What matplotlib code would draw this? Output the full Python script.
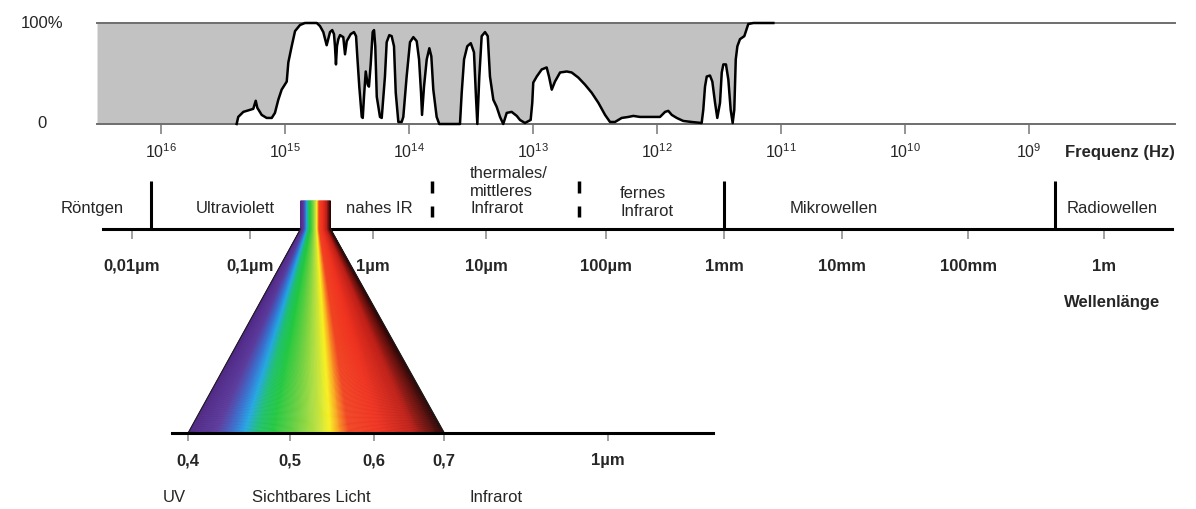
import numpy as np
import matplotlib.pyplot as plt
from matplotlib.colors import LinearSegmentedColormap
from matplotlib.collections import PolyCollection
from matplotlib.ticker import NullLocator

plt.rcParams['font.family'] = ['Liberation Sans', 'DejaVu Sans']
plt.rcParams['mathtext.fontset'] = 'custom'
plt.rcParams['mathtext.rm'] = 'Liberation Sans'
plt.rcParams['mathtext.default'] = 'regular'

C_UM = 2.998e14  # Lichtgeschwindigkeit in um/s

# Durchlaessigkeit der Atmosphaere: x = log10(Frequenz/Hz), y = Prozent
curve_logf = [16.516, 15.390, 15.377, 15.336, 15.282, 15.256, 15.236, 15.223, 15.188, 15.148,
              15.107, 15.081, 15.054, 15.027, 14.986, 14.973, 14.946, 14.919, 14.879, 14.839,
              14.744, 14.718, 14.691, 14.664, 14.637, 14.619, 14.605, 14.597, 14.589, 14.581,
              14.570, 14.556, 14.530, 14.516, 14.502, 14.470, 14.444, 14.427, 14.417, 14.401,
              14.381, 14.373, 14.363, 14.349, 14.333, 14.323, 14.309, 14.293, 14.282, 14.272,
              14.260, 14.234, 14.220, 14.194, 14.180, 14.159, 14.140, 14.121, 14.107, 14.086,
              14.059, 14.046, 14.019, 13.992, 13.965, 13.938, 13.919, 13.903, 13.895, 13.879,
              13.857, 13.836, 13.820, 13.804, 13.777, 13.756, 13.589, 13.575, 13.556, 13.530,
              13.502, 13.476, 13.460, 13.449, 13.433, 13.414, 13.387, 13.365, 13.347, 13.320,
              13.293, 13.266, 13.240, 13.212, 13.172, 13.131, 13.105, 13.065, 13.019, 13.006,
              12.998, 12.970, 12.930, 12.890, 12.871, 12.849, 12.823, 12.782, 12.728, 12.688,
              12.635, 12.581, 12.527, 12.473, 12.419, 12.379, 12.339, 12.285, 12.231, 12.191,
              12.137, 12.056, 11.976, 11.935, 11.909, 11.881, 11.841, 11.788, 11.720, 11.640,
              11.627, 11.613, 11.599, 11.573, 11.554, 11.532, 11.514, 11.492, 11.478, 11.465,
              11.444, 11.425, 11.406, 11.390, 11.377, 11.365, 11.352, 11.331, 11.296, 11.277,
              11.264, 11.223, 11.062]
curve_pct = [0, 0, 7, 12, 14, 15, 23, 16, 9, 6,
             6, 11, 24, 34, 42, 61, 77, 92, 98, 100,
             100, 97, 91, 78, 91, 93, 89, 77, 59, 77,
             84, 88, 86, 69, 82, 89, 91, 87, 67, 37,
             7, 6, 27, 52, 39, 37, 59, 91, 93, 77,
             27, 7, 6, 47, 81, 88, 87, 77, 31, 2,
             2, 7, 47, 81, 86, 82, 64, 31, 9, 37,
             64, 75, 67, 34, 7, 0, 0, 31, 64, 77,
             80, 71, 27, 0, 47, 87, 91, 87, 47, 24,
             17, 7, 0, 11, 12, 8, 4, 1, 4, 21,
             41, 47, 54, 56, 47, 34, 42, 51, 52, 51,
             46, 39, 31, 21, 9, 2, 2, 6, 7, 8,
             7, 7, 7, 12, 13, 9, 6, 3, 2, 1,
             14, 37, 47, 48, 42, 21, 6, 21, 51, 59,
             59, 44, 14, 1, 14, 64, 77, 84, 87, 94,
             99, 100, 100]

freq_exp = [16, 15, 14, 13, 12, 11, 10, 9]

# Bereiche
region_names = ['Röntgen', 'Ultraviolett', 'nahes IR', 'thermales/\nmittleres\nInfrarot',
                'fernes\nInfrarot', 'Mikrowellen', 'Radiowellen']
region_logf = [16.556, 15.403, 14.242, 13.508, 12.298, 10.573, 8.331]
region_align = ['center', 'center', 'center', 'left', 'left', 'center', 'center']
region_y = [0.29, 0.29, 0.29, 0.55, 0.385, 0.29, 0.29]
solid_sep_logf = [16.081, 11.460, 8.790]
dashed_sep_logf = [13.815, 12.629]

wl_tick_logf = [16.234, 15.282, 14.290, 13.379, 12.411, 11.460, 10.508, 9.492, 8.395]
wl_labels = ['0,01µm', '0,1µm', '1µm', '10µm', '100µm', '1mm', '10mm', '100mm', '1m']

# sichtbares Licht
vis_ticks = [0.4, 0.5, 0.6, 0.7, 1.0]
vis_labels = ['0,4', '0,5', '0,6', '0,7', '1µm']
vis_range = (0.4, 0.7)
band_names = ['UV', 'Sichtbares Licht', 'Infrarot']
band_wl = [0.388, 0.524, 0.783]
spec_wl = [0.400, 0.425, 0.440, 0.452, 0.465, 0.481, 0.506, 0.529, 0.546, 0.556, 0.569, 0.608, 0.654, 0.700]
spec_col = ['#4f2784', '#5b3a9c', '#3a6ccc', '#23a6e6', '#1fc070', '#22c840', '#6cd040',
            '#b8e040', '#f8f020', '#f8a020', '#f04422', '#ef3220', '#c02018', '#2a0606']

TXT = '#262626'
W, H = 1196, 509


def box(x0, y0, x1, y1):
    return [x0 / W, 1 - y1 / H, (x1 - x0) / W, (y1 - y0) / H]


fig = plt.figure(figsize=(W / 100, H / 100), dpi=100)

# --- oben: Durchlaessigkeit ---
ax = fig.add_axes(box(97, 23, 1175, 124))
ax.fill_between(curve_logf, curve_pct, 100, color='#c2c2c2', lw=0)
ax.axhline(100, color='#6e6e6e', lw=1.4, clip_on=False)
ax.axhline(0, color='#6e6e6e', lw=1.4, clip_on=False)
ax.plot(curve_logf[1:], curve_pct[1:], color='black', lw=1.8, clip_on=False, solid_joinstyle='round')
ax.set_xlim(16.516, 7.823)
ax.set_ylim(0, 100)
for s in ax.spines.values():
    s.set_visible(False)
ax.set_yticks([])
ax.set_xticks(freq_exp)
ax.set_xticklabels(['$10^{%d}$' % e for e in freq_exp])
ax.tick_params(axis='x', length=7, width=1.1, color='#777777', pad=6,
               labelsize=11.5, labelcolor=TXT)
ax.text(-0.051, 100, '100%', transform=ax.get_yaxis_transform(), ha='center', va='center',
        fontsize=12, color=TXT)
ax.text(-0.051, 0, '0', transform=ax.get_yaxis_transform(), ha='center', va='center',
        fontsize=12, color=TXT)
fig.text(1065 / W, 1 - 153 / H, 'Frequenz (Hz)', ha='left', va='center', fontsize=12,
         fontweight='bold', color=TXT)

# --- Mitte: Bereiche ---
am = fig.add_axes(box(97, 160, 1175, 229))
am.patch.set_visible(False)
for k, s in am.spines.items():
    s.set_visible(k == 'bottom')
am.spines['bottom'].set_linewidth(2.2)
am.spines['bottom'].set_color('black')
tr = am.get_xaxis_transform()
am.vlines(solid_sep_logf, 0, 0.696, transform=tr, color='black', lw=2.2)
am.vlines(dashed_sep_logf, 0.522, 0.696, transform=tr, color='black', lw=2.5)
am.vlines(dashed_sep_logf, 0.174, 0.333, transform=tr, color='black', lw=2.5)
for name, x, ha, y in zip(region_names, region_logf, region_align, region_y):
    am.text(x, y, name, transform=tr, ha=ha, va='center', fontsize=12, color=TXT,
            linespacing=1.2)
am.set_xlim(16.516, 7.823)
am.set_ylim(0, 1)
am.spines['bottom'].set_bounds(16.468, 7.847)
am.set_yticks([])
am.set_xticks(wl_tick_logf)
am.set_xticklabels(wl_labels, fontweight='bold')
am.tick_params(axis='x', length=7.5, width=1.1, color='#888888', pad=14,
               labelsize=12, labelcolor=TXT)
fig.text(1112 / W, 1 - 302 / H, 'Wellenlänge', ha='center', va='center', fontsize=12,
         fontweight='bold', color=TXT)

# --- unten: sichtbares Licht ---
ab = fig.add_axes(box(172, 423, 713, 433))
ab.patch.set_visible(False)
ab.set_zorder(3)
for k, s in ab.spines.items():
    s.set_visible(k == 'bottom')
ab.spines['bottom'].set_linewidth(2.2)
ab.set_xscale('log')
ab.set_xlim(0.3862, 1.2587)
ab.set_ylim(0, 1)
ab.set_yticks([])
ab.set_xticks(vis_ticks)
ab.set_xticklabels(vis_labels, fontweight='bold')
ab.xaxis.set_minor_locator(NullLocator())
ab.tick_params(axis='x', length=5.5, width=1.1, color='#888888', pad=9,
               labelsize=12, labelcolor=TXT)
for name, x in zip(band_names, band_wl):
    ab.text(x, -6.4, name, transform=ab.get_xaxis_transform(), ha='center', va='center',
            fontsize=12, color=TXT)

# --- Regenbogen-Faecher ---
lo, hi = np.log10(vis_range[0]), np.log10(vis_range[1])
stops = [(np.log10(w) - lo) / (hi - lo) for w in spec_wl]
cmap = LinearSegmentedColormap.from_list('spek', list(zip(stops, spec_col)))
lam = np.geomspace(vis_range[0], vis_range[1], 241)
tx = am.transData.transform(np.column_stack([np.log10(C_UM / lam), np.zeros_like(lam)]))[:, 0]
y_line = am.transAxes.transform((0, 0))[1]
y_top = am.transAxes.transform((0, 0.406))[1]
bx = ab.transData.transform(np.column_stack([lam, np.zeros_like(lam)]))[:, 0]
y_bot = ab.transAxes.transform((0, 0))[1]
inv = fig.transFigure.inverted()
polys, cols = [], []
for i in range(len(lam) - 1):
    p = [(tx[i], y_top), (tx[i + 1], y_top), (tx[i + 1], y_line),
         (bx[i + 1], y_bot), (bx[i], y_bot), (tx[i], y_line)]
    polys.append(inv.transform(p))
    cols.append(cmap((i + 0.5) / (len(lam) - 1)))
pc = PolyCollection(polys, facecolors=cols, edgecolors=cols, linewidths=0.4,
                    transform=fig.transFigure, zorder=1)
fig.add_artist(pc)
for j in (0, -1):
    edge = inv.transform([(tx[j], y_line), (bx[j], y_bot)])
    fig.add_artist(plt.Line2D(edge[:, 0], edge[:, 1], color='#1c1c1c', lw=0.8,
                              transform=fig.transFigure, zorder=2))

fig.savefig('out.png', dpi=100)
